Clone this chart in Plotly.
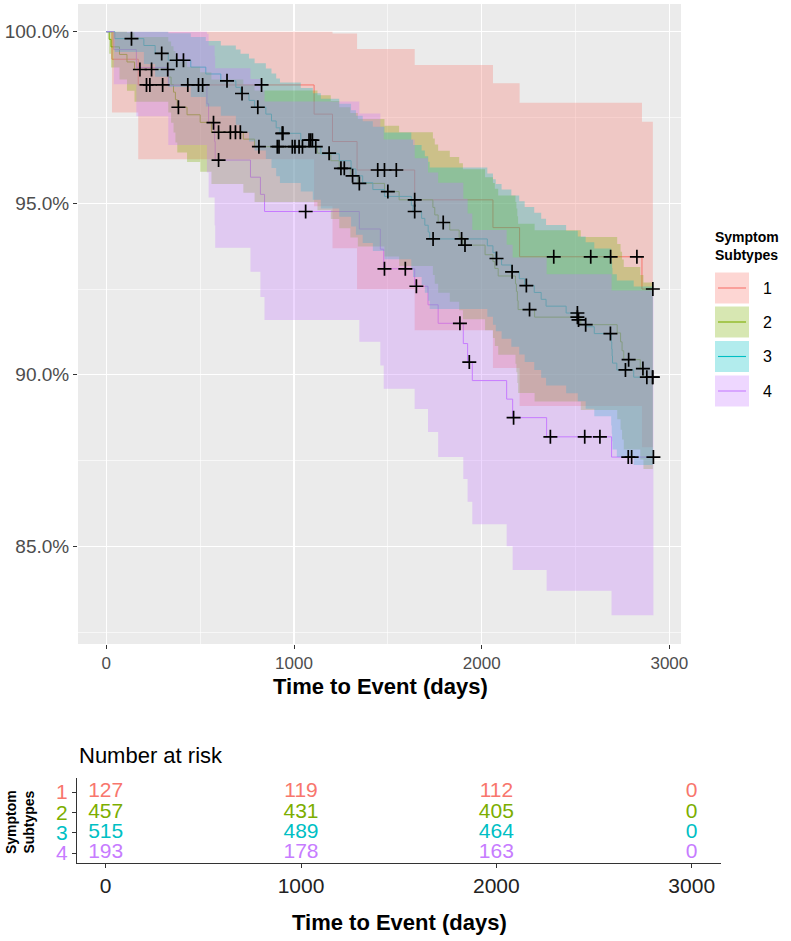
import plotly.graph_objects as go

W, H = 791, 941

# ---------------- data ----------------
groups = ["1", "2", "3", "4"]
colors = ["#F8766D", "#7CAE00", "#00BFC4", "#C77CFF"]
fills = ["rgba(248,118,109,0.3)", "rgba(124,174,0,0.3)",
         "rgba(0,191,196,0.3)", "rgba(199,124,255,0.3)"]

# Group 1
g1_time = [0, 30, 170, 1107, 1205, 1336, 1643, 2060, 2202, 2854, 2912]
g1_surv = [100, 99.2, 98.45, 97.6, 96.8, 95.97, 95.1, 94.29, 93.44, 92.5, 92.5]
g1_lower = [100, 97.65, 96.28, 94.91, 93.69, 92.49, 91.3, 90.2, 89.09, 87.89, 87.89]
g1_upper = [100, 100, 100, 100, 99.95, 99.5, 99.03, 98.5, 97.93, 97.38, 97.38]
g1_censor = [214, 232, 300, 434, 491, 513, 827, 1446, 1482, 1545,
             2384, 2581, 2687, 2827, 2912]

# Group 2
g2_time = [0, 15, 25, 70, 110, 150, 330, 345, 358, 368, 378, 430, 500, 560,
           730, 790, 1125, 1196, 1241, 1300, 1340, 1482, 1560, 1740, 1750,
           1768, 1830, 1880, 1900, 2018, 2060, 2070, 2088, 2180, 2185, 2190,
           2194, 2282, 2528, 2722, 2740, 2748, 2757, 2845, 2862, 2912]
g2_surv = [100, 99.78, 99.56, 99.34, 99.12, 98.9, 98.68, 98.46, 98.24, 98.02,
           97.8, 97.58, 97.36, 97.07, 96.87, 96.65, 96.46, 96.24, 96.02, 95.8,
           95.58, 95.34, 95.1, 94.88, 94.66, 94.44, 94.22, 94.0, 93.78, 93.5,
           93.3, 93.1, 92.88, 92.65, 92.43, 92.16, 91.9, 91.68, 91.46, 91.22,
           90.96, 90.7, 90.44, 90.18, 89.93, 89.93]
g2_lower = [100, 99.36, 98.96, 98.61, 98.28, 97.96, 97.65, 97.35, 97.06, 96.77,
            96.48, 96.2, 95.92, 95.56, 95.31, 95.04, 94.8, 94.54, 94.27, 94.0,
            93.74, 93.45, 93.17, 92.91, 92.65, 92.39, 92.13, 91.88, 91.62, 91.3,
            91.07, 90.84, 90.58, 90.32, 90.07, 89.76, 89.47, 89.22, 88.97, 88.7,
            88.4, 88.11, 87.82, 87.53, 87.25, 87.25]
g2_upper = [100, 100, 100, 100, 99.97, 99.85, 99.72, 99.58, 99.44, 99.29,
            99.14, 98.98, 98.82, 98.61, 98.46, 98.29, 98.15, 97.98, 97.8, 97.63,
            97.46, 97.26, 97.07, 96.89, 96.71, 96.53, 96.35, 96.17, 95.99, 95.76,
            95.59, 95.42, 95.23, 95.04, 94.85, 94.62, 94.4, 94.21, 94.02, 93.81,
            93.59, 93.36, 93.14, 92.91, 92.69, 92.69]
g2_censor = [179, 241, 327, 384, 598, 661, 688, 714, 813, 911, 920, 991, 1005,
             1027, 1045, 1116, 1187, 1250, 1268, 1312, 1348, 1500, 1643, 1795,
             1911, 2255, 2510, 2554, 2783, 2859, 2880, 2911]

# Group 3
g3_time = [0, 45, 200, 260, 330, 450, 530, 610, 690, 715, 760, 790, 850, 880,
           905, 925, 1036, 1100, 1143, 1241, 1304, 1330, 1366, 1420, 1482,
           1625, 1634, 1680, 1697, 1715, 1723, 2030, 2060, 2075, 2106, 2158,
           2200, 2229, 2280, 2317, 2343, 2450, 2512, 2554, 2600, 2690, 2693,
           2695, 2697, 2720, 2810, 2912]
g3_surv = [100, 99.8, 99.6, 99.37, 99.17, 98.97, 98.77, 98.57, 98.38, 98.2,
           98.0, 97.8, 97.6, 97.4, 97.2, 97.04, 96.84, 96.64, 96.44, 96.24,
           96.0, 95.8, 95.6, 95.4, 95.2, 94.94, 94.76, 94.56, 94.36, 94.16,
           93.96, 93.76, 93.56, 93.39, 93.2, 93.0, 92.8, 92.6, 92.4, 92.2,
           92.0, 91.8, 91.6, 91.4, 91.2, 90.96, 90.75, 90.55, 90.34, 90.14,
           89.93, 89.93]
g3_lower = [100, 99.41, 99.06, 98.69, 98.39, 98.1, 97.82, 97.55, 97.29, 97.06,
            96.8, 96.54, 96.29, 96.03, 95.79, 95.59, 95.34, 95.1, 94.85, 94.61,
            94.32, 94.08, 93.84, 93.61, 93.37, 93.07, 92.85, 92.62, 92.39, 92.16,
            91.92, 91.69, 91.46, 91.27, 91.05, 90.82, 90.59, 90.37, 90.14, 89.91,
            89.69, 89.46, 89.23, 89.01, 88.79, 88.52, 88.28, 88.06, 87.82, 87.6,
            87.37, 87.37]
g3_upper = [100, 100, 100, 100, 99.96, 99.85, 99.73, 99.6, 99.48, 99.36,
            99.22, 99.08, 98.93, 98.78, 98.64, 98.52, 98.36, 98.21, 98.05, 97.9,
            97.71, 97.55, 97.39, 97.23, 97.06, 96.85, 96.7, 96.54, 96.37, 96.21,
            96.04, 95.87, 95.7, 95.56, 95.4, 95.23, 95.06, 94.89, 94.72, 94.55,
            94.37, 94.2, 94.03, 93.86, 93.68, 93.47, 93.29, 93.11, 92.93, 92.75,
            92.57, 92.57]
g3_censor = [134, 295, 375, 411, 643, 723, 807, 937, 941, 1080, 1089, 1098,
             1643, 1741, 1893, 2079, 2162, 2238, 2510, 2516, 2686, 2766, 2911]

# Group 4
g4_time = [0, 40, 160, 330, 536, 545, 577, 580, 768, 821, 843, 1348, 1460,
           1478, 1643, 1714, 1768, 1902, 1925, 1950, 2133, 2165, 2346, 2692, 2915]
g4_surv = [100, 99.48, 98.96, 98.44, 97.9, 97.35, 96.8, 96.26, 95.76, 95.26,
           94.76, 94.25, 93.66, 93.09, 92.58, 92.04, 91.5, 90.91, 90.37, 89.83,
           89.29, 88.75, 88.19, 87.6, 87.6]
g4_lower = [100, 98.47, 97.54, 96.7, 95.9, 95.17, 94.36, 93.7, 93.0, 92.27,
            91.6, 90.96, 90.27, 89.59, 89.0, 88.33, 87.6, 86.96, 86.3, 85.64,
            85.0, 84.31, 83.7, 82.99, 82.99]
g4_upper = [100, 100, 100, 100, 99.94, 99.6, 99.29, 98.94, 98.62, 98.3,
            97.97, 97.62, 97.23, 96.86, 96.31, 95.9, 95.6, 95.13, 94.7, 94.22,
            93.79, 93.42, 92.93, 92.46, 92.46]
g4_censor = [571, 598, 1062, 1482, 1593, 1652, 1884, 1934, 2170, 2366, 2549,
             2630, 2781, 2799, 2915]

# Number at risk table
risk_times = [0, 1000, 2000, 3000]
risk_g1 = [127, 119, 112, 0]
risk_g2 = [457, 431, 405, 0]
risk_g3 = [515, 489, 464, 0]
risk_g4 = [193, 178, 163, 0]

x_ticks = [0, 1000, 2000, 3000]
y_ticks = [85, 90, 95, 100]
y_ticklabels = ["85.0%", "90.0%", "95.0%", "100.0%"]

# ---------------- helpers ----------------
def px(x):
    return x / W

def py(y):
    return 1 - y / H

def step_at(times, vals, t):
    v = vals[0]
    for ti, vi in zip(times, vals):
        if ti <= t:
            v = vi
        else:
            break
    return v

series = [
    (g1_time, g1_surv, g1_lower, g1_upper, g1_censor),
    (g2_time, g2_surv, g2_lower, g2_upper, g2_censor),
    (g3_time, g3_surv, g3_lower, g3_upper, g3_censor),
    (g4_time, g4_surv, g4_lower, g4_upper, g4_censor),
]
risk = [risk_g1, risk_g2, risk_g3, risk_g4]

FONT = "Liberation Sans, Arial, sans-serif"

fig = go.Figure()

# survival step lines
for i, (t, s, lo, up, cen) in enumerate(series):
    fig.add_trace(go.Scatter(x=t, y=s, mode="lines", line_shape="hv",
                             line=dict(color=colors[i], width=1.0),
                             showlegend=False, hoverinfo="skip",
                             xaxis="x", yaxis="y"))

# confidence ribbons (drawn over the lines, like ggsurvplot)
for i, (t, s, lo, up, cen) in enumerate(series):
    fig.add_trace(go.Scatter(x=t, y=up, mode="lines", line_shape="hv",
                             line=dict(width=0, color=fills[i]),
                             showlegend=False, hoverinfo="skip",
                             xaxis="x", yaxis="y"))
    fig.add_trace(go.Scatter(x=t, y=lo, mode="lines", line_shape="hv",
                             line=dict(width=0, color=fills[i]),
                             fill="tonexty", fillcolor=fills[i],
                             showlegend=False, hoverinfo="skip",
                             xaxis="x", yaxis="y"))

# censor marks
for i, (t, s, lo, up, cen) in enumerate(series):
    cy = [step_at(t, s, c) for c in cen]
    fig.add_trace(go.Scatter(x=cen, y=cy, mode="markers",
                             marker=dict(symbol="cross-thin", size=10,
                                         line=dict(color="black", width=1.7)),
                             showlegend=False, hoverinfo="skip",
                             xaxis="x", yaxis="y"))

# risk table text
for i in range(4):
    fig.add_trace(go.Scatter(x=risk_times, y=[i + 1] * len(risk_times),
                             mode="text", text=[str(v) for v in risk[i]],
                             textfont=dict(family=FONT, size=21, color=colors[i]),
                             textposition="middle center",
                             showlegend=False, hoverinfo="skip",
                             xaxis="x2", yaxis="y2"))

# ---------------- layout ----------------
main_x_dom = [px(78), px(681)]
main_y_dom = [py(644), py(4)]
risk_x_dom = [px(77), px(721)]
risk_y_dom = [py(863), py(778)]

shapes = []
annotations = []

# grey panel background of main plot only
shapes.append(dict(type="rect", xref="x domain", yref="y domain",
                   x0=0, x1=1, y0=0, y1=1, fillcolor="#EBEBEB",
                   line=dict(width=0), layer="below"))

# legend (manual)
annotations.append(dict(x=px(713), y=py(246), xref="paper", yref="paper",
                        text="<b>Symptom<br>Subtypes</b>", showarrow=False,
                        xanchor="left", yanchor="middle", align="left",
                        font=dict(family=FONT, size=14, color="black")))
key_centers = [288, 322, 356.5, 391]
for i in range(4):
    yc = key_centers[i]
    shapes.append(dict(type="rect", xref="paper", yref="paper",
                       x0=px(715), x1=px(749), y0=py(yc + 15.5), y1=py(yc - 15.5),
                       fillcolor=fills[i], line=dict(width=0)))
    shapes.append(dict(type="line", xref="paper", yref="paper",
                       x0=px(718), x1=px(746), y0=py(yc), y1=py(yc),
                       line=dict(color=colors[i], width=1.1)))
    annotations.append(dict(x=px(767), y=py(yc), xref="paper", yref="paper",
                            text=groups[i], showarrow=False,
                            xanchor="center", yanchor="middle",
                            font=dict(family=FONT, size=16, color="black")))

# titles
annotations.append(dict(x=px(380), y=py(686), xref="paper", yref="paper",
                        text="<b>Time to Event (days)</b>", showarrow=False,
                        xanchor="center", yanchor="middle",
                        font=dict(family=FONT, size=22, color="black")))
annotations.append(dict(x=px(400), y=py(922), xref="paper", yref="paper",
                        text="<b>Time to Event (days)</b>", showarrow=False,
                        xanchor="center", yanchor="middle",
                        font=dict(family=FONT, size=22, color="black")))
annotations.append(dict(x=px(77), y=py(755), xref="paper", yref="paper",
                        text="Number at risk", showarrow=False,
                        xanchor="left", yanchor="middle",
                        font=dict(family=FONT, size=22, color="black")))
annotations.append(dict(x=px(20), y=py(822), xref="paper", yref="paper",
                        text="<b>Symptom<br>Subtypes</b>", showarrow=False,
                        textangle=-90, xanchor="center", yanchor="middle",
                        font=dict(family=FONT, size=14, color="black")))

risk_ticktext = ['<span style="color:%s">%s</span>' % (colors[i], groups[i])
                 for i in range(4)]

fig.update_layout(
    width=W, height=H,
    margin=dict(l=0, r=0, t=0, b=0, autoexpand=False),
    paper_bgcolor="white",
    plot_bgcolor="white",
    showlegend=False,
    font=dict(family=FONT),
    shapes=shapes,
    annotations=annotations,
    xaxis=dict(domain=main_x_dom, range=[-151, 3062], tickvals=x_ticks,
               showgrid=True, gridcolor="white", gridwidth=1.3,
               zeroline=False, showline=False, automargin=False,
               ticks="outside", ticklen=4, tickcolor="#333333", tickwidth=1,
               tickfont=dict(family=FONT, size=17, color="#4D4D4D"),
               minor=dict(dtick=500, tick0=0, showgrid=True,
                          gridcolor="white", gridwidth=0.6, ticklen=0),
               anchor="y"),
    yaxis=dict(domain=main_y_dom, range=[82.15, 100.81], tickvals=y_ticks,
               ticktext=y_ticklabels,
               showgrid=True, gridcolor="white", gridwidth=1.3,
               zeroline=False, showline=False, automargin=False,
               ticks="outside", ticklen=4, tickcolor="#333333", tickwidth=1,
               tickfont=dict(family=FONT, size=19, color="#4D4D4D"),
               minor=dict(dtick=2.5, tick0=0, showgrid=True,
                          gridcolor="white", gridwidth=0.6, ticklen=0),
               anchor="x"),
    xaxis2=dict(domain=risk_x_dom, range=[-147, 3150], tickvals=x_ticks,
                showgrid=False, zeroline=False, automargin=False,
                showline=True, linecolor="#333333", linewidth=1.2,
                ticks="outside", ticklen=4, tickcolor="#333333",
                tickfont=dict(family=FONT, size=21, color="#222222"),
                anchor="y2"),
    yaxis2=dict(domain=risk_y_dom, range=[4.49, 0.31],
                tickvals=[1, 2, 3, 4], ticktext=risk_ticktext,
                showgrid=False, zeroline=False, automargin=False,
                showline=True, linecolor="#333333", linewidth=1.2,
                ticks="outside", ticklen=4, tickcolor="#333333",
                tickfont=dict(family=FONT, size=21),
                anchor="x2"),
)

fig.write_html("out.html",
               config={"displayModeBar": False, "staticPlot": True},
               post_script="document.body.style.margin='0';"
                           "document.body.style.padding='0';"
                           "document.documentElement.style.overflow='hidden';")
